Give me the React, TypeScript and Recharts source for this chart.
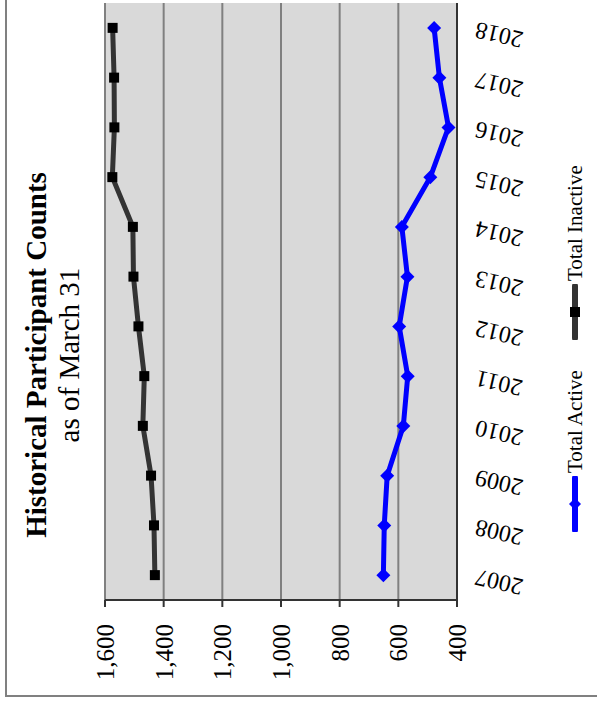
import React from 'react';
import { LineChart, Line, XAxis, YAxis, CartesianGrid } from 'recharts';

const years = [2007, 2008, 2009, 2010, 2011, 2012, 2013, 2014, 2015, 2016, 2017, 2018];
const totalActive = [651, 648, 638, 583, 568, 597, 569, 588, 491, 429, 460, 478];
const totalInactive = [1430, 1433, 1443, 1471, 1466, 1486, 1503, 1505, 1575, 1568, 1569, 1574];
const valueTicks = [400, 600, 800, 1000, 1200, 1400, 1600];
const yearBounds = [2006.5, 2007.5, 2008.5, 2009.5, 2010.5, 2011.5, 2012.5, 2013.5, 2014.5, 2015.5, 2016.5, 2017.5, 2018.5];

const data = years.map((year, i) => ({
    year,
    active: totalActive[i],
    inactive: totalInactive[i],
}));

const FONT = '"Liberation Serif", "Times New Roman", serif';
const BLUE = '#0000FF';
const DARK = '#333333';

const SquareDot = (props: any) => {
    const { cx, cy, index } = props;
    if (cx == null || cy == null) return null;
    return <rect key={`sq-${index}`} x={cx - 5} y={cy - 5} width={10} height={10} fill="#000" />;
};

const DiamondDot = (props: any) => {
    const { cx, cy, index } = props;
    if (cx == null || cy == null) return null;
    return (
        <path
            key={`dm-${index}`}
            d={`M${cx},${cy - 7} L${cx + 7},${cy} L${cx},${cy + 7} L${cx - 7},${cy} Z`}
            fill={BLUE}
        />
    );
};

const YearTick = (props: any) => {
    const { x, y, payload } = props;
    const tx = x - 7;
    const ty = y + 41;
    return (
        <text
            x={tx}
            y={ty}
            transform={`rotate(-77, ${tx}, ${ty})`}
            textAnchor="middle"
            dominantBaseline="central"
            fontFamily={FONT}
            fontSize={24}
            fill="#000"
        >
            {payload.value}
        </text>
    );
};

function LegendItem({ label, color, shape, left }: { label: string; color: string; shape: 'square' | 'diamond'; left: number }) {
    return (
        <div style={{ position: 'absolute', left, top: 560, height: 30, display: 'flex', alignItems: 'center' }}>
            <svg width={56} height={16}>
                <line x1={2} y1={8} x2={54} y2={8} stroke={color} strokeWidth={6} strokeLinecap="round" />
                {shape === 'square' ? (
                    <rect x={23} y={3} width={10} height={10} fill="#000" />
                ) : (
                    <path d="M28,2 L34,8 L28,14 L22,8 Z" fill={color} />
                )}
            </svg>
            <span style={{ fontFamily: FONT, fontSize: 21, marginLeft: 3, whiteSpace: 'nowrap' }}>{label}</span>
        </div>
    );
}

export default function App() {
    return (
        <div style={{ position: 'absolute', left: 0, top: 0, width: 597, height: 705, overflow: 'hidden', background: '#fff' }}>
            <div
                style={{
                    position: 'absolute',
                    left: 0,
                    top: 0,
                    width: 705,
                    height: 597,
                    transformOrigin: '0 0',
                    transform: 'translateY(705px) rotate(-90deg)',
                }}
            >
                <div style={{ position: 'absolute', left: 8, top: 5, width: 800, height: 800, border: '2px solid #808080' }} />
                <div
                    style={{
                        position: 'absolute',
                        left: 0,
                        top: 20,
                        width: 700,
                        textAlign: 'center',
                        fontFamily: FONT,
                        fontSize: 29,
                        lineHeight: '33px',
                        color: '#000',
                    }}
                >
                    <div style={{ fontWeight: 'bold' }}>Historical Participant Counts</div>
                    <div>as of March 31</div>
                </div>
                <div style={{ position: 'absolute', left: 0, top: 0 }}>
                    <LineChart width={705} height={597} data={data} margin={{ top: 105, right: 3, left: 0, bottom: 0 }}>
                        <CartesianGrid
                            xAxisId="a"
                            yAxisId="v"
                            vertical={false}
                            stroke="#808080"
                            strokeWidth={2}
                            fill="#D9D9D9"
                            fillOpacity={1}
                        />
                        <XAxis
                            xAxisId="a"
                            dataKey="year"
                            type="number"
                            domain={[2006.5, 2018.5]}
                            ticks={yearBounds}
                            tick={false}
                            tickSize={8}
                            height={1}
                            axisLine={{ stroke: DARK, strokeWidth: 2 }}
                            tickLine={{ stroke: DARK, strokeWidth: 2 }}
                        />
                        <XAxis
                            xAxisId="b"
                            dataKey="year"
                            type="number"
                            domain={[2006.5, 2018.5]}
                            ticks={years}
                            tick={<YearTick />}
                            tickSize={0}
                            tickMargin={0}
                            height={139}
                            axisLine={false}
                            tickLine={false}
                        />
                        <YAxis
                            yAxisId="v"
                            domain={[400, 1600]}
                            ticks={valueTicks}
                            width={105}
                            tickSize={7}
                            tickMargin={17}
                            tickFormatter={(v: number) => v.toLocaleString('en-US')}
                            tick={{ fill: '#000', fontSize: 25, fontFamily: FONT }}
                            axisLine={{ stroke: DARK, strokeWidth: 2 }}
                            tickLine={{ stroke: DARK, strokeWidth: 2 }}
                        />
                        <YAxis
                            yAxisId="r"
                            orientation="right"
                            domain={[400, 1600]}
                            width={0}
                            tick={false}
                            tickLine={false}
                            axisLine={{ stroke: '#808080', strokeWidth: 2 }}
                        />
                        <Line
                            xAxisId="a"
                            yAxisId="v"
                            type="linear"
                            dataKey="inactive"
                            name="Total Inactive"
                            stroke={DARK}
                            strokeWidth={5}
                            dot={SquareDot}
                            activeDot={false}
                            isAnimationActive={false}
                        />
                        <Line
                            xAxisId="a"
                            yAxisId="v"
                            type="linear"
                            dataKey="active"
                            name="Total Active"
                            stroke={BLUE}
                            strokeWidth={5}
                            dot={DiamondDot}
                            activeDot={false}
                            isAnimationActive={false}
                        />
                    </LineChart>
                </div>
                <LegendItem label="Total Active" color={BLUE} shape="diamond" left={173} />
                <LegendItem label="Total Inactive" color={DARK} shape="square" left={365} />
            </div>
        </div>
    );
}
